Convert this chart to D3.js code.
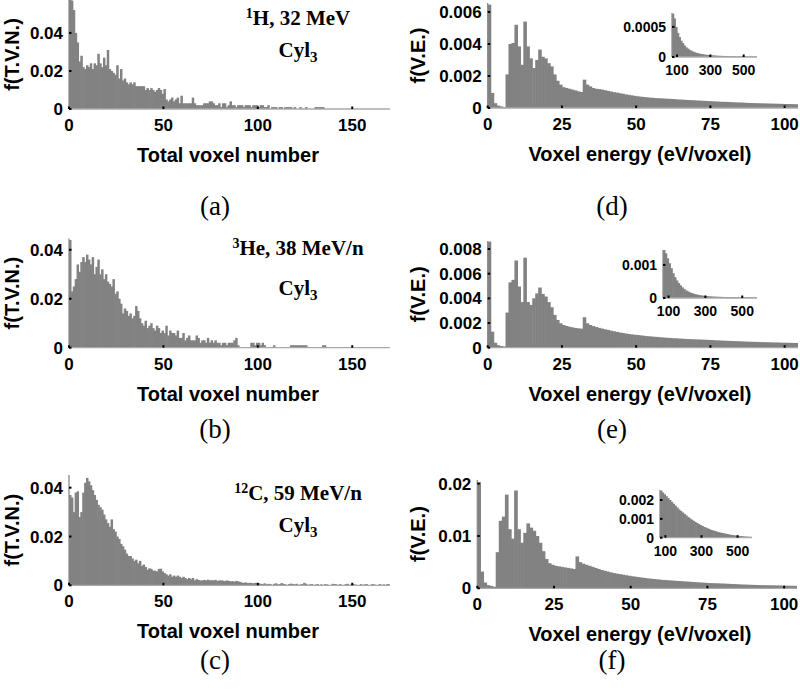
<!DOCTYPE html>
<html><head><meta charset="utf-8">
<script src="https://cdn.jsdelivr.net/npm/d3@7"></script>
<style>body{margin:0;background:#fff}svg{display:block}</style>
</head><body><svg id="c" width="800" height="697"></svg>
<script>
// ---------- DATA ----------
// Total voxel number histograms (bin width 1), values in units of 0.001
const tvnH = [58,57,52,40,35,25,28,22,21,23,22,24,21,24,23,29,24,22,27,23,31,21,20,19,18,23,16,21,15,16,14,13,14,13,14,12,12,12,12,12,10,11,10,11,10,9,10,11,10,8,10.5,5,4,5,6,4,5,6,3,7,3,3,3,3,3,6,3,2,2,2,2,3,3,3,4,4,3,2,2,3,1,3,3,1,2,4,2,2,1,2,2,2,1,2,2,2,1,2,2,2,1,2,2,1,1,2,0,1,1,1,0,1,1,0,1,1,1,1,0,1,0,0,1,0,0,1,0,0,0,0,1,1,1,1,1,0];
const tvnHe = [44,23,25,28,34,31,35,37,35,38,36,34,37,30,33,36,30,32,28,30,27,26,25,28,22,23,20,18,14,16,15,13,14,12,13,17,15,12,10,9,11,8,9,10,8,7,9,8,6,7,6,9,5,7,6,6,5,7,4,4,6,3,4,5,3,3,3,5,4,2,3,3,2,4,2,3,2,3,2,2,1,2,2,1,2,2,2,3,4,1,0,0,0,0,0,0,2,2,1,2,2,1,2,1,0,0,0,0,1,0,0,0,0,0,0,0,0,1,1,1,1,1,1,1,1,1,0,0,0,0,0,0,0,0,1,1,0];
const tvnC = [37,36,30,38,38.5,28,30,38,42,44,42.6,41,39,37,35,33,32,31,29,27,25.5,24,27,23,22,20,19,17,16,14.6,13,12,12,11,10,10.5,9,10,8,8.5,7.5,6.4,7,6.7,6,6,5.7,6.7,6.8,5.7,5,4.5,4,4.5,3.5,4,3.5,4,3.5,3,3.5,3,2.5,3,2.5,3,2,2.5,2.2,2,2,2.2,2,2.3,2,2.1,2,2.2,1.8,2,2,1.9,1.7,2,1.8,1.6,1.7,1.5,1.8,1.6,1.4,1.1,1,1.2,0.9,1,1,0.8,1,0.9,0.8,0.6,0.5,0.8,0.4,0.6,0.5,0,0.6,0.8,0.4,0.5,0.9,0.6,0.4,0,0.5,0.7,0.5,0.4,0.6,0,0.4,0.5,1,0.6,0,0.4,0.5,0,0.3,0.5,0,0.4,0,0.5,0.4,0,0,0.6,0.5,0.4,0,0.5,0,0,0.5,0.6,0,0.4,0.5,0.3,0,0,0.5,0,0.4,0.5,0,0,0.5,0.4,0,0,0.5,0,0.4,0,0.5,0.4];
// Voxel energy histograms (bin width 1 eV/voxel)
const veH = [64.6,9.4,3,1.5,1,0.5,21,40,40.6,52,38.5,27,54,38.5,31,25,30,36.5,32,31,28,26,21,17,14.6,13,12.5,12,11.5,11,10.4,10,17.7,14.6,13.5,12.5,12,11.8,11.5,11.1,10.7,10.3,9.9,9.6,9.2,8.9,8.5,8.2,7.9,7.6,7.3,7.1,6.9,6.7,6.5,6.4,6.2,6.1,6.0,5.9,5.8,5.7,5.6,5.4,5.3,5.2,5.1,5.0,4.9,4.8,4.7,4.6,4.5,4.4,4.3,4.2,4.1,4.0,3.9,3.85,3.8,3.7,3.6,3.5,3.45,3.4,3.3,3.2,3.1,3.05,3.0,2.95,2.9,2.85,2.8,2.75,2.7,2.65,2.6,2.55,2.5,2.45,2.4,2.35,2.3]; // x 1e-4
const veHe = [86,13,4,2,1.4,1,28.5,53,55,70.7,49.6,37,73,37,34.7,40,44,48.8,43.6,41.5,37,32.8,26.6,22.5,19.8,18.4,17.6,17,16.5,16,15.7,15.4,24.7,19.8,18.4,17.5,16.8,16.1,15.5,14.9,14.4,13.8,13.3,12.8,12.3,11.9,11.5,11.1,10.8,10.5,10.3,10.0,9.7,9.4,9.2,9.0,8.8,8.6,8.4,8.2,8.0,7.9,7.7,7.6,7.4,7.3,7.1,7.0,6.9,6.8,6.7,6.6,6.5,6.4,6.3,6.2,6.0,5.9,5.8,5.7,5.6,5.5,5.4,5.3,5.2,5.1,5.0,4.9,4.8,4.75,4.7,4.6,4.5,4.45,4.4,4.3,4.25,4.2,4.1,4.05,4.0,3.95,3.9,3.85,3.8]; // x 1e-4
const veC = [20.3,3.2,1.1,0.6,0.45,0.3,6.9,12.9,13.7,17.9,11.3,9.5,18.7,11.3,8.7,10.6,12.4,11.6,11,10,8.7,7.1,5.6,4.8,4.5,4.3,4.2,4.1,4.0,3.9,3.8,3.7,6.1,5.0,4.7,4.5,4.3,4.1,3.9,3.7,3.5,3.35,3.2,3.05,2.9,2.8,2.7,2.6,2.5,2.4,2.3,2.22,2.14,2.06,1.98,1.9,1.84,1.78,1.72,1.66,1.6,1.56,1.52,1.48,1.44,1.4,1.36,1.32,1.28,1.24,1.2,1.16,1.12,1.08,1.04,1.0,0.98,0.96,0.94,0.92,0.9,0.87,0.84,0.81,0.78,0.75,0.72,0.7,0.68,0.66,0.64,0.62,0.6,0.59,0.58,0.57,0.56,0.55,0.54,0.52,0.5,0.49,0.48,0.47,0.46]; // x 1e-3
// Insets: bins of 10 eV starting at 70
const insetStart = 70, insetBin = 10;
const insH = [72,64,50,40,33,27,23,19,16,14,12,10.5,9,8,7,6.3,5.6,5,4.5,4.1,3.7,3.4,3.1,2.9,2.7,2.5,2.3,2.1,2,1.9,1.8,1.7,1.6,1.5,1.4,1.3,1.3,1.2,1.1,1.1,1,1,0.9,0.9,0.8,0.8,0.8,0.7,0.7,0.7,0.6]; // x 1e-5
const insHe = [14.5,13.5,12,10.5,9,7.5,6.3,5.3,4.5,3.8,3.2,2.7,2.3,2,1.7,1.5,1.3,1.15,1,0.9,0.8,0.72,0.65,0.6,0.55,0.5,0.46,0.43,0.4,0.38,0.36,0.34,0.32,0.3,0.29,0.28,0.27,0.26,0.25,0.24,0.23,0.22,0.21,0.2,0.2,0.19,0.19,0.18,0.18,0.17,0.17]; // x 1e-4
const insC = [25,24,23,22,21,20,19,18,17,16,15,14.2,13.4,12.6,11.8,11,10.3,9.6,9,8.4,7.8,7.2,6.7,6.2,5.7,5.3,4.9,4.5,4.1,3.8,3.5,3.2,2.9,2.7,2.5,2.3,2.1,1.9,1.7,1.5,1.4,1.2,1.1,1,0.9,0.8,0.7,0.6,0.55,0.5,0.45]; // x 1e-4
// tick labels
const tvnXTicks = [0,50,100,150];
const veXTicks = [0,25,50,75,100];
const insXTicks = [100,300,500];
const yTicksA = [0,0.02,0.04], yTicksB = [0,0.02,0.04], yTicksC = [0,0.02,0.04];
const yTicksD = [0,0.002,0.004,0.006], yTicksE = [0,0.002,0.004,0.006,0.008], yTicksF = [0,0.01,0.02];
const insYTicksD = [0,0.0005], insYTicksE = [0,0.001], insYTicksF = [0,0.001,0.002];
const ions = [["1","H, 32 MeV"],["3","He, 38 MeV/n"],["12","C, 59 MeV/n"]];
const tags = ["(a)","(b)","(c)","(d)","(e)","(f)"];

// ---------- DRAW ----------
const svg = d3.select("#c");
const SANS = "'Liberation Sans', Arial, sans-serif";
const SERIF = "'Liberation Serif', 'Times New Roman', serif";
const BAR = "#828282";
let clipId = 0;

function hist(o){
  const x = d3.scaleLinear().domain([o.xMin||0, o.xMax]).range([o.x0, o.x1]);
  const y = d3.scaleLinear().domain([0, o.yMax]).range([o.yBase, o.yTop]);
  const g = svg.append("g");
  const id = "clip"+(clipId++);
  g.append("clipPath").attr("id", id).append("rect")
    .attr("x", o.x0).attr("y", o.yTop).attr("width", o.x1-o.x0).attr("height", o.yBase-o.yTop);
  const start = o.start||0, bw = o.bin||1;
  g.append("g").attr("clip-path", `url(#${id})`).selectAll("rect").data(o.data).join("rect")
    .attr("x", (d,i)=>x(start+i*bw))
    .attr("width", (d,i)=>x(start+(i+1)*bw)-x(start+i*bw)+0.6)
    .attr("y", d=>y(d*o.unit))
    .attr("height", d=>o.yBase-y(d*o.unit))
    .attr("fill", BAR);
  // axes lines
  g.append("line").attr("x1",o.x0).attr("x2",o.x1).attr("y1",o.yBase).attr("y2",o.yBase)
    .attr("stroke","#a8a8a8").attr("stroke-width",1.3);
  g.append("line").attr("x1",o.x0).attr("x2",o.x0).attr("y1",o.yBase).attr("y2",o.yTop)
    .attr("stroke","#8a8a8a").attr("stroke-width",1.3);
  // ticks
  const fs = o.fs;
  o.xTicks.forEach(t=>{
    g.append("line").attr("x1",x(t)).attr("x2",x(t)).attr("y1",o.yBase).attr("y2",o.yBase-2.5)
      .attr("stroke","#000").attr("stroke-width",2);
    g.append("text").attr("x",x(t)).attr("y",o.yBase+fs*1.3).attr("text-anchor","middle")
      .attr("font-family",SANS).attr("font-weight","bold").attr("font-size",fs).text(t);
  });
  o.yTicks.forEach(t=>{
    g.append("line").attr("x1",o.x0).attr("x2",o.x0+2.5).attr("y1",y(t)).attr("y2",y(t))
      .attr("stroke","#000").attr("stroke-width",2);
    g.append("text").attr("x",o.x0-6).attr("y",y(t)+fs*0.36).attr("text-anchor","end")
      .attr("font-family",SANS).attr("font-weight","bold").attr("font-size",fs).text(t===0?"0":String(t));
  });
  if(o.xlabel){
    g.append("text").attr("x",o.xlabelX).attr("y",o.yBase+53).attr("text-anchor","middle")
      .attr("font-family",SANS).attr("font-weight","bold").attr("font-size",20).text(o.xlabel);
  }
  if(o.ylabel){
    const cy=(o.yBase+o.yTop)/2;
    g.append("text").attr("transform",`translate(${o.ylabelX},${cy}) rotate(-90)`)
      .attr("text-anchor","middle").attr("font-family",SANS).attr("font-weight","bold")
      .attr("font-size",20).text(o.ylabel);
  }
  return {x,y};
}

const left = {x0:69, x1:390, xMax:170, xTicks:tvnXTicks, unit:0.001, fs:17,
  xlabel:"Total voxel number", xlabelX:228, ylabel:"f(T.V.N.)", ylabelX:19};
hist({...left, data:tvnH, yBase:109, yTop:0, yMax:0.0573, yTicks:yTicksA});
hist({...left, data:tvnHe, yBase:347.7, yTop:238.5, yMax:0.0446, yTicks:yTicksB});
hist({...left, data:tvnC, yBase:585.3, yTop:475, yMax:0.0452, yTicks:yTicksC});

const right = {xMax:104.5, xTicks:veXTicks, fs:17,
  xlabel:"Voxel energy (eV/voxel)", xlabelX:640, ylabel:"f(V.E.)", ylabelX:425};
hist({...right, x0:487.7, x1:798, data:veH, unit:1e-4, yBase:108, yTop:3, yMax:0.00656, yTicks:yTicksD});
hist({...right, x0:487.7, x1:798, data:veHe, unit:1e-4, yBase:347.7, yTop:241, yMax:0.00865, yTicks:yTicksE});
hist({...right, x0:477.3, x1:797, xMax:104.2, data:veC, unit:1e-3, yBase:588.3, yTop:480, yMax:0.0207, yTicks:yTicksF});

// insets
const ins = {xMin:70, xMax:580, start:insetStart, bin:insetBin, xTicks:insXTicks, fs:14};
hist({...ins, x0:672, x1:757, data:insH, unit:1e-5, yBase:57, yTop:13, yMax:0.00073, yTicks:insYTicksD});
hist({...ins, x0:663, x1:757, data:insHe, unit:1e-4, yBase:298, yTop:250, yMax:0.00145, yTicks:insYTicksE});
hist({...ins, x0:660, x1:752, data:insC, unit:1e-4, yBase:537.7, yTop:490, yMax:0.00253, yTicks:insYTicksF});

// annotations
const annY = [[25,57],[255,295],[500,532]];
ions.forEach((ion,i)=>{
  const t = svg.append("text").attr("x",298).attr("y",annY[i][0]).attr("text-anchor","middle")
    .attr("font-family",SERIF).attr("font-weight","bold").attr("font-size",21);
  t.append("tspan").attr("font-size",14).attr("dy",-7).text(ion[0]);
  t.append("tspan").attr("dy",7).text(ion[1]);
  const c = svg.append("text").attr("x",298).attr("y",annY[i][1]).attr("text-anchor","middle")
    .attr("font-family",SERIF).attr("font-weight","bold").attr("font-size",21);
  c.append("tspan").text("Cyl");
  c.append("tspan").attr("font-size",15).attr("dy",5).text("3");
});

// panel tags
const tagPos = [[215,215],[215,438],[215,669],[612,215],[612,438],[612,669]];
tags.forEach((t,i)=>{
  svg.append("text").attr("x",tagPos[i][0]).attr("y",tagPos[i][1]).attr("text-anchor","middle")
    .attr("font-family",SERIF).attr("font-size",27).text(t);
});
</script></body></html>
